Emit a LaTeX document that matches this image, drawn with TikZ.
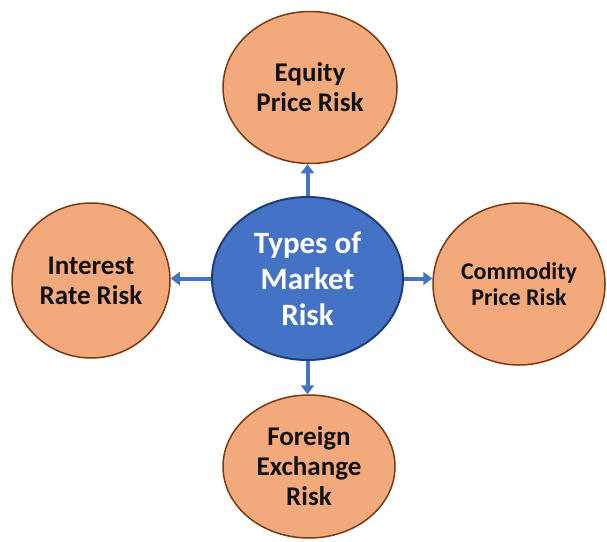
\documentclass[tikz,border=0pt]{standalone}
\usepackage{fontspec}
\setmainfont{Carlito}
\usetikzlibrary{shapes.geometric,arrows.meta}
\definecolor{riskfill}{HTML}{F2AA7C}
\definecolor{riskline}{HTML}{7A3A10}
\definecolor{hubfill}{HTML}{4472C4}
\definecolor{hubline}{HTML}{1F3D7A}
\definecolor{linkblue}{HTML}{4472C4}
\definecolor{ink}{HTML}{111111}
\begin{document}
\begin{tikzpicture}[x=1pt,y=-1pt,
  risk/.style={ellipse, draw=riskline, line width=1.5pt, fill=riskfill,
    inner sep=0pt, align=center, text=ink,
    font=\fontsize{27}{30}\selectfont\bfseries},
  hub/.style={ellipse, draw=hubline, line width=2pt, fill=hubfill,
    inner sep=0pt, align=center, text=white,
    font=\fontsize{31}{36}\selectfont\bfseries},
  link/.style={draw=linkblue, line width=4pt,
    -{Triangle[length=9pt,width=13pt]}}]
\useasboundingbox (0,0) rectangle (607,541);

% central topic
\node[hub, minimum width=191pt, minimum height=163pt] (hub) at (307.5,278.5)
  {Types of\\Market\\Risk};

% the four kinds of market risk
\node[risk, minimum width=174pt, minimum height=152pt] (equity) at (310,87.5)
  {Equity\\Price Risk};
\node[risk, minimum width=172pt, minimum height=162pt,
  font=\fontsize{24}{26}\selectfont\bfseries] (commodity) at (519,284)
  {Commodity\\Price Risk};
\node[risk, minimum width=158pt, minimum height=155pt] (interest) at (91,280.5)
  {Interest\\Rate Risk};
\node[risk, minimum width=172pt, minimum height=143pt] (forex) at (309,466.5)
  {Foreign\\Exchange\\Risk};

% connectors from the hub outwards
\draw[link] (hub.north) -- (hub.north |- equity.south);
\draw[link] (hub.east) -- (hub.east -| commodity.west);
\draw[link] (hub.west) -- (hub.west -| interest.east);
\draw[link] (hub.south) -- (hub.south |- forex.north);
\end{tikzpicture}
\end{document}
